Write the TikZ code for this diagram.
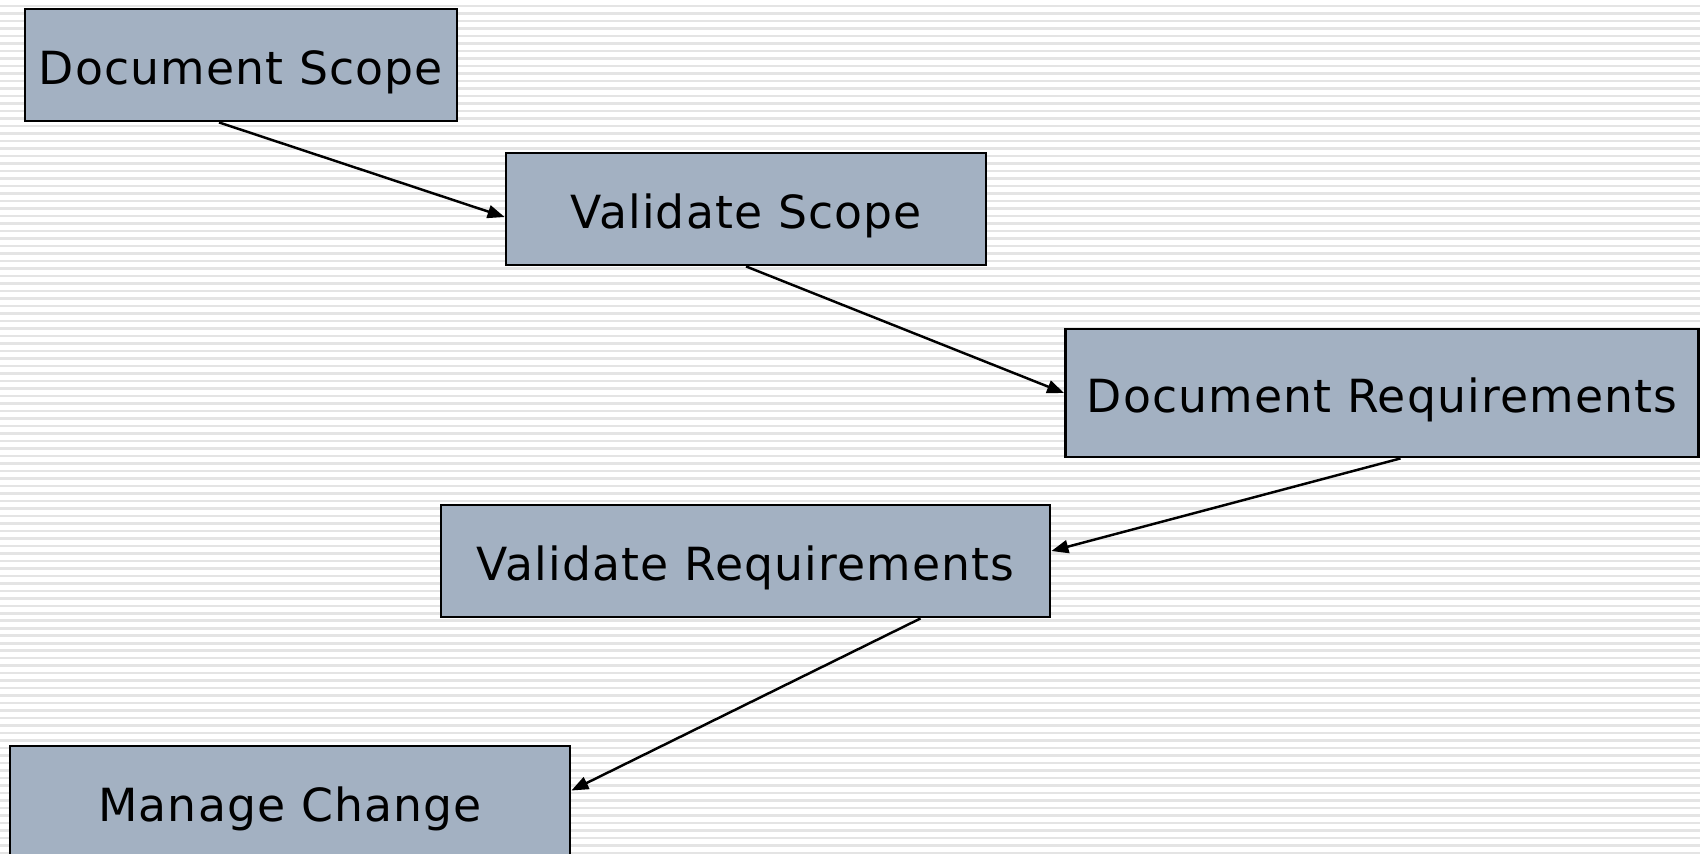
\documentclass[tikz,border=0pt]{standalone}
\usepackage{fontspec}
\setmainfont{DejaVu Sans}[LetterSpace=2.5]
\usetikzlibrary{arrows.meta}
\definecolor{boxfill}{RGB}{163,177,194}
\definecolor{stripe}{RGB}{228,228,228}

\begin{document}
\begin{tikzpicture}[
    task/.style={draw, line width=0.8pt, fill=boxfill, inner sep=0pt,
        text height=11.2pt, text depth=0pt, font=\fontsize{13}{15}\selectfont},
    flow/.style={-{Triangle[length=1.7mm,width=1.3mm]}, line width=0.7pt}
  ]
  \useasboundingbox (0,0) rectangle (17,-8.53);
  % lined paper background
  \fill[white] (0,0) rectangle (17,-8.53);
  \foreach \i in {0,...,113} {
      \fill[stripe] (0,-0.045-0.075*\i) rectangle (17,-0.07-0.075*\i);
    }

  \node[task, minimum width=4.32cm, minimum height=1.12cm] (scope) at (2.41,-0.65) {Document Scope};
  \node[task, minimum width=4.80cm, minimum height=1.12cm] (valscope) at (7.46,-2.09) {Validate Scope};
  \node[task, minimum width=6.33cm, minimum height=1.28cm] (reqs) at (13.82,-3.93) {Document Requirements};
  \node[task, minimum width=6.09cm, minimum height=1.12cm] (valreqs) at (7.455,-5.61) {Validate Requirements};
  \node[task, minimum width=5.60cm, minimum height=1.12cm] (change) at (2.9,-8.02) {Manage Change};

  \draw[flow] ([xshift=-0.22cm]scope.south) -- ([yshift=-0.08cm]valscope.west);
  \draw[flow] (valscope.south) -- (reqs.west);
  \draw[flow] ([xshift=0.185cm]reqs.south) -- ([yshift=0.10cm]valreqs.east);
  \draw[flow] ([xshift=1.75cm]valreqs.south) -- ([yshift=0.115cm]change.east);
\end{tikzpicture}
\end{document}
